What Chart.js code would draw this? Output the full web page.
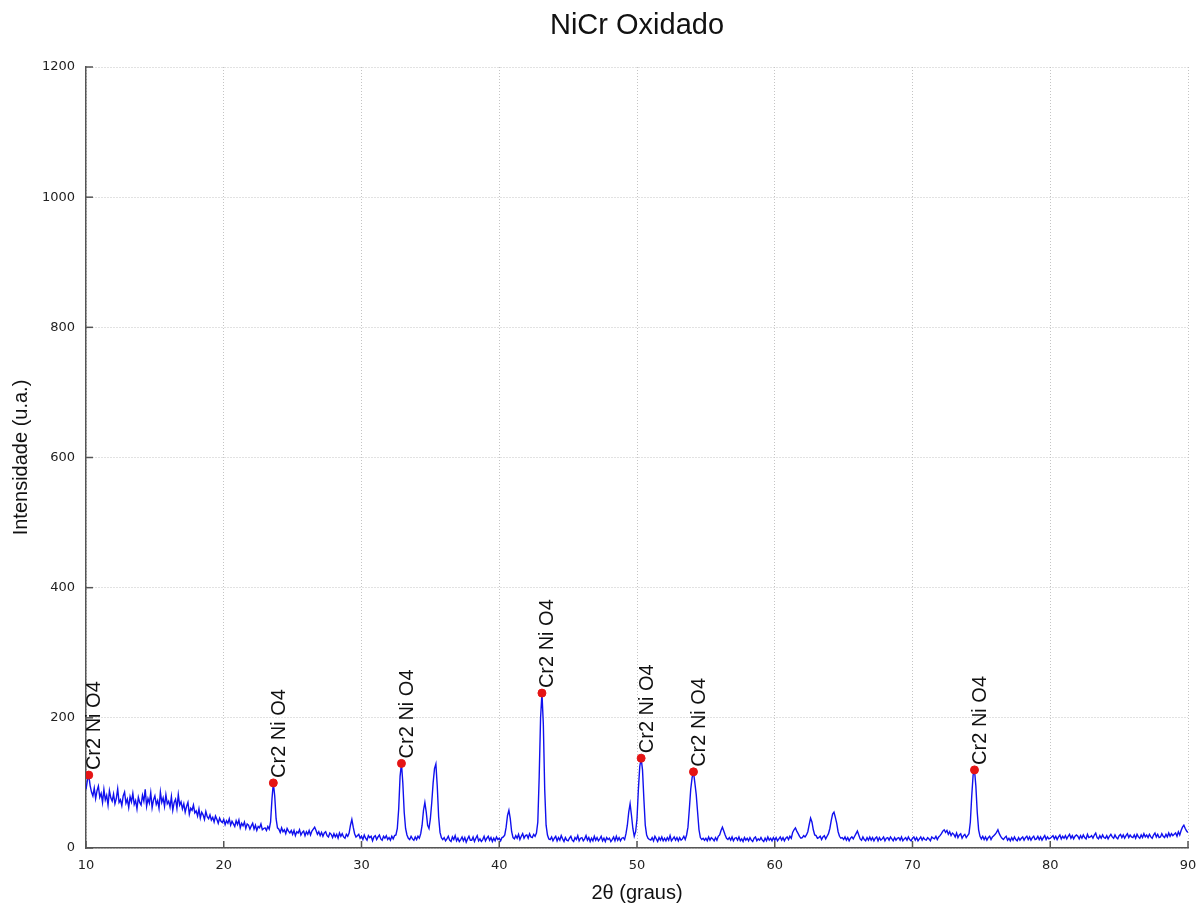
<!DOCTYPE html>
<html>
<head>
<meta charset="utf-8">
<script src="https://cdn.jsdelivr.net/npm/chart.js@4"></script>
<style>body{margin:0;background:#fff}</style>
</head>
<body>
<canvas id="xrd" width="1201" height="908"></canvas>
<script>
// Difratograma NiCr oxidado (passo de 0.1 grau, 10 a 90)
const anguloInicial = 10.0;
const passo = 0.1;
const intensidade = [
  90,104,112,96,86,80,92,76,88,95,   // 10
  78,84,70,90,74,81,66,88,77,72,     // 11
  83,68,76,91,70,74,65,80,86,69,     // 12
  75,62,79,71,84,67,73,60,78,70,     // 13
  66,81,72,90,64,76,69,85,62,74,     // 14
  80,67,73,61,86,70,77,64,82,68,     // 15
  72,63,79,58,70,75,61,82,66,71,     // 16
  60,68,55,64,70,52,61,58,66,54,     // 17
  57,49,60,46,55,51,44,56,48,45,     // 18
  51,43,47,40,49,44,38,46,41,39,     // 19
  44,36,42,38,45,35,41,37,33,42,     // 20
  36,43,31,38,34,40,30,37,35,29,     // 21
  34,38,29,35,27,33,31,37,28,30,     // 22
  31,27,33,29,40,75,100,80,45,31,    // 23
  29,24,31,25,28,22,30,26,23,27,     // 24
  21,27,19,25,23,28,20,24,26,19,     // 25
  25,21,27,20,26,29,32,27,21,25,     // 26
  19,24,18,23,25,19,17,23,21,16,     // 27
  22,17,21,15,23,18,22,17,15,21,     // 28
  18,23,35,44,32,22,17,19,21,15,     // 29
  18,13,20,15,12,19,16,18,11,17,     // 30
  19,13,17,20,14,12,18,15,19,13,     // 31
  16,12,18,14,19,20,30,60,110,130,   // 32
  100,55,30,20,15,13,18,14,12,17,    // 33
  13,18,15,22,35,58,70,55,35,30,     // 34
  45,70,100,122,129,95,48,24,16,13,  // 35
  16,11,14,18,12,10,17,13,19,11,     // 36
  15,10,13,17,11,16,9,14,18,12,      // 37
  12,17,10,15,19,11,14,10,13,18,     // 38
  11,15,18,12,16,10,15,11,17,13,     // 39
  15,11,16,17,20,32,50,58,45,25,     // 40
  16,14,19,15,21,13,18,22,15,19,     // 41
  20,15,22,17,16,21,18,23,40,110,    // 42
  200,238,190,90,35,20,14,13,17,11,  // 43
  15,18,11,16,12,19,14,10,16,12,     // 44
  11,15,18,12,10,16,13,19,11,15,     // 45
  16,11,14,19,12,16,10,15,11,18,     // 46
  12,16,11,14,18,11,15,10,16,13,     // 47
  15,10,13,17,11,18,12,16,11,15,     // 48
  16,13,22,35,55,68,50,30,18,25,     // 49
  45,90,125,138,120,75,35,20,15,13,  // 50
  12,16,11,18,14,10,16,12,17,11,     // 51
  15,11,16,12,19,11,14,17,12,16,     // 52
  11,16,12,14,18,13,20,32,60,90,     // 53
  108,117,100,82,55,28,16,13,15,12,  // 54
  15,11,17,12,16,14,11,16,12,18,     // 55
  20,27,32,26,20,15,13,16,12,17,     // 56
  11,15,16,12,17,11,14,10,16,12,     // 57
  15,11,16,12,10,15,17,11,14,12,     // 58
  16,12,10,15,11,17,12,15,11,16,     // 59
  12,16,11,14,17,12,16,11,15,17,     // 60
  13,18,15,24,28,31,26,22,18,15,     // 61
  16,19,17,20,25,36,46,40,28,20,     // 62
  19,15,16,18,13,17,19,14,18,22,     // 63
  30,42,52,55,47,38,25,18,15,16,     // 64
  13,17,12,16,11,15,17,14,18,22,     // 65
  26,20,14,12,17,13,11,16,12,17,     // 66
  12,16,11,15,17,11,16,12,14,17,     // 67
  11,15,16,12,17,14,11,16,12,15,     // 68
  16,12,17,11,14,16,12,17,13,11,     // 69
  15,17,12,16,11,14,17,12,16,13,     // 70
  12,16,14,11,17,15,14,18,13,17,     // 71
  19,22,26,28,24,27,21,25,19,23,     // 72
  21,17,23,16,20,22,15,19,21,16,     // 73
  19,22,40,80,112,120,95,55,28,18,   // 74
  14,18,13,17,12,16,18,13,17,19,     // 75
  21,24,28,22,18,15,13,16,18,12,     // 76
  15,11,16,12,17,13,11,16,12,15,     // 77
  17,12,16,18,13,17,12,16,18,13,     // 78
  14,18,13,17,12,16,19,13,17,14,     // 79
  15,17,19,14,18,13,17,20,14,18,     // 80
  15,19,14,18,21,15,19,14,18,20,     // 81
  18,14,19,15,20,16,14,21,16,17,     // 82
  19,15,20,23,16,14,19,15,20,16,     // 83
  15,19,14,18,21,17,15,20,16,14,     // 84
  19,21,16,20,15,19,22,16,20,17,     // 85
  16,20,15,21,17,15,20,16,22,17,     // 86
  20,16,21,17,15,20,23,17,21,16,     // 87
  17,22,18,16,21,17,23,18,22,19,     // 88
  21,23,18,25,20,27,32,35,30,26,     // 89
  24                                 // 90
];

// picos identificados
const picosAngulo = [10.2, 23.6, 32.9, 43.1, 50.3, 54.1, 74.5];
const picosIntensidade = [112, 100, 130, 238, 138, 117, 120];
const picosRotulo = ['Cr2 Ni O4', 'Cr2 Ni O4', 'Cr2 Ni O4', 'Cr2 Ni O4', 'Cr2 Ni O4', 'Cr2 Ni O4', 'Cr2 Ni O4'];

const titulo = 'NiCr Oxidado';
const tituloX = '2\u03b8 (graus)';
const tituloY = 'Intensidade (u.a.)';

const pontos = intensidade.map((v, i) => ({ x: +(anguloInicial + i * passo).toFixed(1), y: v }));
const picos = picosAngulo.map((a, i) => ({ x: a, y: picosIntensidade[i] }));

// marcas para dentro, rotulos dos picos e titulo
const extras = {
  id: 'extras',
  afterDatasetsDraw(chart) {
    const { ctx, chartArea: a, scales: { x, y } } = chart;
    ctx.save();
    ctx.strokeStyle = '#555';
    ctx.lineWidth = 1.5;
    x.ticks.forEach(t => {
      const px = x.getPixelForValue(t.value);
      ctx.beginPath(); ctx.moveTo(px, a.bottom); ctx.lineTo(px, a.bottom - 7); ctx.stroke();
    });
    y.ticks.forEach(t => {
      const py = y.getPixelForValue(t.value);
      ctx.beginPath(); ctx.moveTo(a.left, py); ctx.lineTo(a.left + 7, py); ctx.stroke();
    });

    ctx.fillStyle = '#111';
    ctx.font = '20px "Liberation Sans", Arial, sans-serif';
    ctx.textAlign = 'left';
    ctx.textBaseline = 'middle';
    picosAngulo.forEach((ang, i) => {
      const px = x.getPixelForValue(ang);
      const py = y.getPixelForValue(picosIntensidade[i]);
      ctx.save();
      ctx.translate(px + 6, py - 5);
      ctx.rotate(-Math.PI / 2);
      ctx.fillText(picosRotulo[i], 0, 0);
      ctx.restore();
    });

    ctx.font = '29px "Liberation Sans", Arial, sans-serif';
    ctx.textAlign = 'center';
    ctx.fillText(titulo, (a.left + a.right) / 2, 26);
    ctx.restore();
  }
};

new Chart(document.getElementById('xrd'), {
  type: 'line',
  data: {
    datasets: [
      {
        type: 'scatter',
        data: picos,
        pointRadius: 4,
        pointHoverRadius: 4,
        pointBackgroundColor: '#e51414',
        pointBorderColor: '#e51414',
        showLine: false,
        order: 0
      },
      {
        data: pontos,
        borderColor: '#1010ee',
        borderWidth: 1.4,
        pointRadius: 0,
        tension: 0,
        fill: false,
        order: 1
      }
    ]
  },
  options: {
    responsive: false,
    animation: false,
    events: [],
    layout: { padding: { top: 67, right: 13, left: 0, bottom: 0 } },
    plugins: { legend: { display: false }, tooltip: { enabled: false } },
    scales: {
      x: {
        type: 'linear',
        min: 10,
        max: 90,
        afterFit: s => { s.height = 60; s.paddingRight = 0; s.paddingLeft = 0; },
        ticks: { stepSize: 10, padding: 10, color: '#222', font: { family: 'DejaVu Sans', size: 13 } },
        grid: { color: '#c4c4c4', drawTicks: false, lineWidth: 1 },
        border: { display: true, color: '#555', width: 1.5, dash: [1, 2] },
        title: { display: true, text: tituloX, color: '#111', padding: { top: 0, bottom: 3 }, font: { family: 'Liberation Sans', size: 20 } }
      },
      y: {
        min: 0,
        max: 1200,
        afterFit: s => { s.width = 86; s.paddingTop = 0; s.paddingBottom = 0; },
        ticks: { stepSize: 200, padding: 11, color: '#222', font: { family: 'DejaVu Sans', size: 13 }, callback: v => String(v) },
        grid: { color: '#c4c4c4', drawTicks: false, lineWidth: 1 },
        border: { display: true, color: '#555', width: 1.5, dash: [1, 2] },
        title: { display: true, text: tituloY, color: '#111', padding: { top: 9, bottom: 0 }, font: { family: 'Liberation Sans', size: 20 } }
      }
    }
  },
  plugins: [extras]
});
</script>
</body>
</html>
